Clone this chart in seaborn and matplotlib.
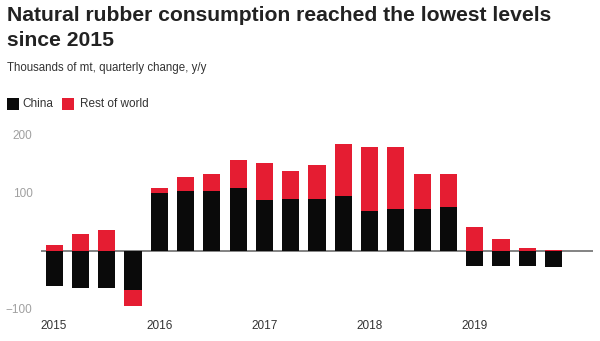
import matplotlib
matplotlib.use("Agg")
import matplotlib.pyplot as plt
from matplotlib.patches import Rectangle
import pandas as pd
import seaborn as sns

# Quarterly y/y change in natural rubber consumption, thousands of mt
quarters = [f"{y} Q{q}" for y in range(2015, 2020) for q in range(1, 5)]
china = [-61, -64, -64, -68, 99, 103, 103, 108, 87, 89, 89, 94, 69, 72, 72, 75, -26, -26, -26, -28]
rest_of_world = [9, 29, 36, -27, 8, 24, 29, 48, 64, 48, 58, 89, 110, 107, 60, 57, 40, 20, 5, 2]
year_labels = ["2015", "2016", "2017", "2018", "2019"]
y_ticks = [-100, 100, 200]

RED = "#E51D32"
BLACK = "#0A0A0A"
TEXT = "#333333"

sns.set_theme(style="white")
plt.rcParams["font.family"] = ["Liberation Sans", "DejaVu Sans"]

df = pd.DataFrame({"quarter": quarters, "china": china, "row": rest_of_world})
# Rest of world stacks on China when both share a sign, otherwise starts from zero
df["row_extent"] = [c + r if (c >= 0) == (r >= 0) else r
                    for c, r in zip(df["china"], df["row"])]

fig = plt.figure(figsize=(6.0, 3.41), dpi=100)
ax = fig.add_axes([0.0683, 0.0771, 0.92, 0.546])

sns.barplot(data=df, x="quarter", y="row_extent", color=RED, saturation=1,
            width=0.65, linewidth=0, ax=ax, zorder=2)
sns.barplot(data=df, x="quarter", y="china", color=BLACK, saturation=1,
            width=0.65, linewidth=0, ax=ax, zorder=3)

ax.axhline(0, color="#7a7a7a", lw=1.3, zorder=1)
ax.set_xlim(-0.5, 20.5)
ax.set_ylim(-110, 210)

ax.set_xticks([0, 4, 8, 12, 16])
ax.set_xticklabels(year_labels, color=TEXT, fontsize=8.5)
ax.set_yticks(y_ticks)
ax.set_yticklabels([str(v).replace("-", "\u2212") for v in y_ticks],
                   color="#a0a0a0", fontsize=8.5)
ax.tick_params(axis="x", length=0, pad=4)
ax.tick_params(axis="y", length=0, pad=6)
ax.set_xlabel("")
ax.set_ylabel("")
for s in ax.spines.values():
    s.set_visible(False)

# Heading, subtitle and legend
for text, base in [("Natural rubber consumption reached the lowest levels", 20.7),
                   ("since 2015", 45.7)]:
    fig.text(7 / 600, 1 - base / 341, text, ha="left", va="baseline",
             fontsize=15.2, fontweight="bold", color="#222222")
fig.text(7 / 600, 1 - 68 / 341, "Thousands of mt, quarterly change, y/y",
         ha="left", va="center", fontsize=8.3, color=TEXT)

sq_w, sq_h = 12 / 600, 12 / 341
yc = 1 - 104 / 341
for x0, col, label, tx in [(7, BLACK, "China", 22), (62, RED, "Rest of world", 80)]:
    fig.patches.append(Rectangle((x0 / 600, yc - sq_h / 2), sq_w, sq_h,
                                 transform=fig.transFigure, color=col, lw=0))
    fig.text(tx / 600, yc, label, ha="left", va="center", fontsize=8.5, color=TEXT)

fig.savefig("out.png", dpi=100)
